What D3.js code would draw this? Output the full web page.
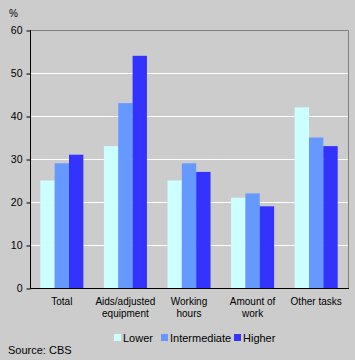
<!DOCTYPE html>
<html><head><meta charset="utf-8">
<script src="https://cdn.jsdelivr.net/npm/d3@7"></script>
<style>
html,body{margin:0;padding:0;background:#cccccc;}
svg{display:block;}
text{font-family:"Liberation Sans",Arial,sans-serif;fill:#000;}
</style></head><body>
<svg id="c" width="355" height="360"></svg>
<script>
const categories = [["Total"], ["Aids/adjusted", "equipment"], ["Working", "hours"], ["Amount of", "work"], ["Other tasks"]];
const seriesNames = ["Lower", "Intermediate", "Higher"];
const lower = [25, 33, 25, 21, 42];
const intermediate = [29, 43, 29, 22, 35];
const higher = [31, 54, 27, 19, 33];
const yTicks = [0, 10, 20, 30, 40, 50, 60];
const colors = ["#ccffff", "#6699ff", "#3333ff"];

const series = [lower, intermediate, higher];
const svg = d3.select("#c");
const L = 30, R = 348, T = 30, B = 288;

svg.append("rect").attr("width", 355).attr("height", 360).attr("fill", "#cccccc");

const x0 = d3.scaleBand().domain(d3.range(categories.length)).range([L, R]).paddingInner(0.323).paddingOuter(0.162);
const x1 = d3.scaleBand().domain(d3.range(series.length)).range([0, x0.bandwidth()]);
const y = d3.scaleLinear().domain([0, 60]).range([B, T]);

// gridlines
svg.append("g").selectAll("line").data(yTicks.filter(t => t > 0 && t < 60)).join("line")
  .attr("x1", L).attr("x2", R).attr("y1", d => y(d) + 0.5).attr("y2", d => y(d) + 0.5)
  .attr("stroke", "#ffffff").attr("stroke-width", 1);

// top and right border
svg.append("path").attr("d", `M${L},${T + 0.5}H${R + 0.5}V${B}`).attr("fill", "none").attr("stroke", "#808080");

// bars
const g = svg.append("g");
categories.forEach((c, i) => {
  series.forEach((s, j) => {
    g.append("rect")
      .attr("x", x0(i) + x1(j))
      .attr("width", x1.bandwidth())
      .attr("y", y(s[i]))
      .attr("height", y(0) - y(s[i]))
      .attr("fill", colors[j]);
  });
});

// y axis
const ya = svg.append("g").attr("transform", `translate(${L + 0.5},0)`)
  .call(d3.axisLeft(y).tickValues(yTicks).tickSize(4).tickPadding(4).tickFormat(d3.format("d")));
ya.select(".domain").attr("stroke", "#000").attr("d", `M0,${T}V${B + 0.5}`);
ya.selectAll(".tick line").attr("stroke", "#000").attr("transform", "translate(0,0.5)");
ya.selectAll(".tick text").attr("font-size", 10.5).attr("font-family", "Liberation Sans, Arial, sans-serif").attr("fill", "#000");

// x axis line
svg.append("line").attr("x1", L).attr("x2", R + 1).attr("y1", B + 0.5).attr("y2", B + 0.5).attr("stroke", "#000");

// category labels
categories.forEach((lines, i) => {
  const cx = x0(i) + x0.bandwidth() / 2;
  lines.forEach((ln, k) => {
    svg.append("text").attr("x", cx).attr("y", 305 + k * 12).attr("text-anchor", "middle")
      .attr("font-size", 10).text(ln);
  });
});

// % label
svg.append("text").attr("x", 9).attr("y", 17).attr("font-size", 10).text("%");

// legend
const legX = [114, 161, 234];
seriesNames.forEach((n, j) => {
  svg.append("rect").attr("x", legX[j]).attr("y", 334).attr("width", 7).attr("height", 7).attr("fill", colors[j]);
  svg.append("text").attr("x", legX[j] + 9).attr("y", 341.5).attr("font-size", 11).text(n);
});

// source
svg.append("text").attr("x", 8).attr("y", 354).attr("font-size", 11).text("Source: CBS");
</script>
</body></html>
